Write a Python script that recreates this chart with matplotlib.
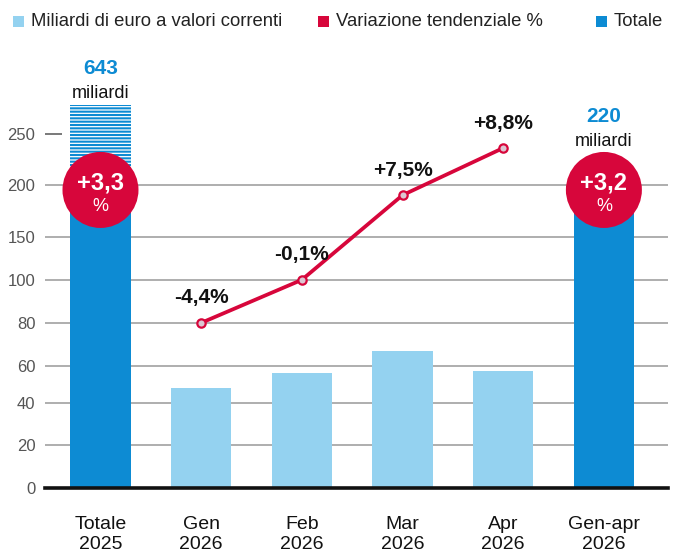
import numpy as np
import matplotlib
matplotlib.use('Agg')
import matplotlib.pyplot as plt
from matplotlib.patches import Ellipse, Rectangle
from matplotlib.transforms import ScaledTranslation

# Dati
categorie = ['Totale\n2025', 'Gen\n2026', 'Feb\n2026', 'Mar\n2026', 'Apr\n2026', 'Gen-apr\n2026']
mesi_valori = [48, 56, 67, 57]               # miliardi di euro, Gen-Apr 2026
variazione = [-4.4, -0.1, 7.5, 8.8]          # variazione tendenziale %
variazione_pos_y = [80, 100, 190, 236]       # altezza della linea sul grafico
totali = [643, 220]                          # miliardi
totali_variazione = [3.3, 3.2]               # %
totali_altezza = [190, 190]                  # parte piena disegnata
totale_2025_tratteggio = 278                 # barra interrotta (fuori scala)
y_ticks = [0, 20, 40, 60, 80, 100, 150, 200, 250]

# Scala non lineare dell'asse y
scala_val = [-100, 0, 20, 40, 60, 80, 100, 150, 200, 250, 300, 1000]
scala_pos = [-215, 0, 43, 85, 122, 165, 208, 251, 303, 354, 405, 1119]

C_CHIARO = '#94d2f0'
C_SCURO = '#0d8bd3'
C_ROSSO = '#d7063b'

plt.rcParams['font.family'] = ['Liberation Sans', 'DejaVu Sans']
plt.rcParams['hatch.linewidth'] = 1.5


def fmt(v):
    return f'{v:+.1f}'.replace('.', ',')


fig = plt.figure(figsize=(6.82, 5.56), dpi=100)
ax = fig.add_axes([0.066, 0.1223, 0.9135, 0.6978])
ax.set_yscale('function', functions=(lambda y: np.interp(y, scala_val, scala_pos),
                                      lambda p: np.interp(p, scala_pos, scala_val)))
ax.set_xlim(-0.551, 5.637)
ax.set_ylim(0, 283)

x = np.arange(len(categorie))

# griglia
for t in y_ticks:
    if t == 0:
        continue
    if t == 250:
        ax.hlines(t, -0.551, -0.38, color='#555555', lw=1.1, zorder=1)
    else:
        ax.axhline(t, color='#999999', lw=1.1, zorder=1)
ax.axhline(0, color='#111111', lw=2.6, zorder=5, clip_on=False)

# barre mensili
ax.bar(x[1:5], mesi_valori, width=0.6, color=C_CHIARO, zorder=2)

# barre dei totali
ax.bar([x[0], x[5]], totali_altezza, width=0.6, color=C_SCURO, zorder=2)
ax.bar(x[0], totale_2025_tratteggio - totali_altezza[0], bottom=totali_altezza[0], width=0.6,
       facecolor='white', edgecolor=C_SCURO, hatch='-----', linewidth=0, zorder=2)

# linea variazione tendenziale
ax.plot(x[1:5], variazione_pos_y, color=C_ROSSO, lw=2.7, marker='o', markersize=6,
        markerfacecolor='#dcc6d2', markeredgecolor=C_ROSSO, markeredgewidth=1.6, zorder=4)
for xi, yi, v in zip(x[1:5], variazione_pos_y, variazione):
    ax.annotate(fmt(v) + '%', (xi, yi), xytext=(0, 18), textcoords='offset points',
                ha='center', va='center', fontsize=15, fontweight='bold', color='#111111',
                zorder=6, annotation_clip=False)

# cerchi con le variazioni dei totali
for xi, v, tot, ytop in zip([x[0], x[5]], totali_variazione, totali, [314, 267]):
    tr = fig.dpi_scale_trans + ScaledTranslation(xi, 195, ax.transData)
    ax.add_artist(Ellipse((0, 0), 0.76, 0.76, transform=tr, facecolor=C_ROSSO,
                          edgecolor='none', zorder=7))
    ax.annotate(fmt(v), (xi, 195), xytext=(0, 5), textcoords='offset points',
                ha='center', va='center', fontsize=17, fontweight='bold', color='white',
                zorder=8, annotation_clip=False)
    ax.annotate('%', (xi, 195), xytext=(0, -12), textcoords='offset points',
                ha='center', va='center', fontsize=13, color='white', zorder=8,
                annotation_clip=False)
    ax.annotate(str(tot), (xi, ytop), ha='center', va='center', fontsize=15,
                fontweight='bold', color=C_SCURO, zorder=8, annotation_clip=False)
    ax.annotate('miliardi', (xi, ytop), xytext=(0, -18), textcoords='offset points',
                ha='center', va='center', fontsize=13, color='#111111', zorder=8,
                annotation_clip=False)

# assi
ax.set_yticks(y_ticks)
ax.set_yticklabels([str(t) for t in y_ticks], fontsize=12, color='#555555')
ax.tick_params(axis='y', length=0, pad=7)
ax.set_xticks(x)
ax.set_xticklabels(categorie, fontsize=14, color='#111111', linespacing=1.25)
ax.tick_params(axis='x', length=0, pad=20)
for s in ax.spines.values():
    s.set_visible(False)

# legenda
legenda = [('Miliardi di euro a valori correnti', C_CHIARO, 13),
           ('Variazione tendenziale %', C_ROSSO, 318),
           ('Totale', C_SCURO, 596)]
for testo, col, xl in legenda:
    fig.add_artist(Rectangle((xl / 682, 1 - 27 / 556), 11 / 682, 11 / 556,
                             transform=fig.transFigure, facecolor=col, edgecolor='none'))
    fig.text((xl + 18) / 682, 1 - 21 / 556, testo, fontsize=13.3, color='#222222',
             va='center', ha='left')

fig.savefig('out.png', dpi=100, facecolor='white')
